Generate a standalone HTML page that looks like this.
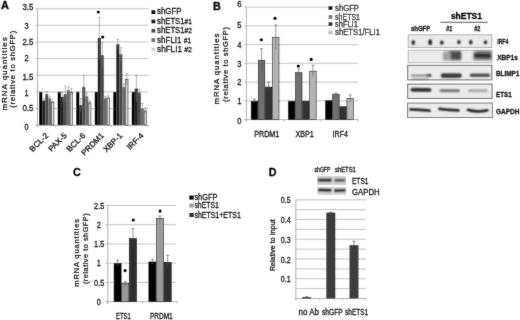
<!DOCTYPE html>
<html><head><meta charset="utf-8"><style>
html,body{margin:0;padding:0;background:#fff;}
body{width:520px;height:320px;overflow:hidden;}
svg{display:block;font-family:"Liberation Sans", sans-serif;}
</style></head><body>
<svg width="520" height="320" viewBox="0 0 520 320">
<defs><filter id="bl" filterUnits="userSpaceOnUse" x="0" y="0" width="520" height="320"><feConvolveMatrix order="3" kernelMatrix="1 2 1 2 4 2 1 2 1" divisor="16" edgeMode="none"/></filter><filter id="soft" filterUnits="userSpaceOnUse" x="0" y="0" width="520" height="320"><feConvolveMatrix order="3" kernelMatrix="1 2 1 2 28 2 1 2 1" divisor="40" edgeMode="none"/></filter><filter id="bl2" filterUnits="userSpaceOnUse" x="0" y="0" width="520" height="320"><feGaussianBlur stdDeviation="1.1"/></filter></defs>
<rect width="520" height="320" fill="#fff"/>
<g filter="url(#soft)">
<line x1="37.5" y1="108.55" x2="148.6" y2="108.55" stroke="#c4c4c4" stroke-width="1"/>
<line x1="37.5" y1="91.90" x2="148.6" y2="91.90" stroke="#c4c4c4" stroke-width="1"/>
<line x1="37.5" y1="75.25" x2="148.6" y2="75.25" stroke="#c4c4c4" stroke-width="1"/>
<line x1="37.5" y1="58.60" x2="148.6" y2="58.60" stroke="#c4c4c4" stroke-width="1"/>
<line x1="37.5" y1="41.95" x2="148.6" y2="41.95" stroke="#c4c4c4" stroke-width="1"/>
<line x1="37.5" y1="25.30" x2="148.6" y2="25.30" stroke="#c4c4c4" stroke-width="1"/>
<line x1="37.5" y1="8.65" x2="148.6" y2="8.65" stroke="#c4c4c4" stroke-width="1"/>
<line x1="37.5" y1="8.65" x2="37.5" y2="127.2" stroke="#b4b4b4" stroke-width="1"/>
<line x1="35.7" y1="125.2" x2="148.6" y2="125.2" stroke="#b4b4b4" stroke-width="1"/>
<line x1="35.7" y1="125.20" x2="37.5" y2="125.20" stroke="#b4b4b4" stroke-width="1"/>
<line x1="35.7" y1="108.55" x2="37.5" y2="108.55" stroke="#b4b4b4" stroke-width="1"/>
<line x1="35.7" y1="91.90" x2="37.5" y2="91.90" stroke="#b4b4b4" stroke-width="1"/>
<line x1="35.7" y1="75.25" x2="37.5" y2="75.25" stroke="#b4b4b4" stroke-width="1"/>
<line x1="35.7" y1="58.60" x2="37.5" y2="58.60" stroke="#b4b4b4" stroke-width="1"/>
<line x1="35.7" y1="41.95" x2="37.5" y2="41.95" stroke="#b4b4b4" stroke-width="1"/>
<line x1="35.7" y1="25.30" x2="37.5" y2="25.30" stroke="#b4b4b4" stroke-width="1"/>
<line x1="35.7" y1="8.65" x2="37.5" y2="8.65" stroke="#b4b4b4" stroke-width="1"/>
<line x1="37.50" y1="125.2" x2="37.50" y2="127.2" stroke="#b4b4b4" stroke-width="0.9"/>
<line x1="56.02" y1="125.2" x2="56.02" y2="127.2" stroke="#b4b4b4" stroke-width="0.9"/>
<line x1="74.53" y1="125.2" x2="74.53" y2="127.2" stroke="#b4b4b4" stroke-width="0.9"/>
<line x1="93.05" y1="125.2" x2="93.05" y2="127.2" stroke="#b4b4b4" stroke-width="0.9"/>
<line x1="111.57" y1="125.2" x2="111.57" y2="127.2" stroke="#b4b4b4" stroke-width="0.9"/>
<line x1="130.08" y1="125.2" x2="130.08" y2="127.2" stroke="#b4b4b4" stroke-width="0.9"/>
<line x1="148.60" y1="125.2" x2="148.60" y2="127.2" stroke="#b4b4b4" stroke-width="0.9"/>
<text x="24.40" y="129.90" font-size="9.20" fill="#111111" stroke="#111111" stroke-width="0.28" textLength="4.10" lengthAdjust="spacingAndGlyphs">0</text>
<text x="22.40" y="110.60" font-size="9.20" fill="#111111" stroke="#111111" stroke-width="0.28" textLength="10.90" lengthAdjust="spacingAndGlyphs">0.5</text>
<text x="24.40" y="96.30" font-size="9.20" fill="#111111" stroke="#111111" stroke-width="0.28" textLength="4.10" lengthAdjust="spacingAndGlyphs">1</text>
<text x="22.40" y="79.60" font-size="9.20" fill="#111111" stroke="#111111" stroke-width="0.28" textLength="10.90" lengthAdjust="spacingAndGlyphs">1.5</text>
<text x="24.40" y="61.10" font-size="9.20" fill="#111111" stroke="#111111" stroke-width="0.28" textLength="4.10" lengthAdjust="spacingAndGlyphs">2</text>
<text x="22.40" y="44.60" font-size="9.20" fill="#111111" stroke="#111111" stroke-width="0.28" textLength="10.90" lengthAdjust="spacingAndGlyphs">2.5</text>
<text x="24.40" y="28.80" font-size="9.20" fill="#111111" stroke="#111111" stroke-width="0.28" textLength="4.10" lengthAdjust="spacingAndGlyphs">3</text>
<text x="22.40" y="10.30" font-size="9.20" fill="#111111" stroke="#111111" stroke-width="0.28" textLength="10.90" lengthAdjust="spacingAndGlyphs">3.5</text>
<rect x="39.25" y="91.90" width="3.0" height="33.30" fill="#050505"/>
<rect x="42.25" y="100.56" width="3.0" height="24.64" fill="#242424"/>
<rect x="45.25" y="94.23" width="3.0" height="30.97" fill="#4a4a4a"/>
<rect x="48.25" y="98.56" width="3.0" height="26.64" fill="#6c6c6c"/>
<rect x="51.55" y="102.19" width="2.4" height="23.01" fill="#d6d6d6" stroke="#222" stroke-width="0.6"/>
<line x1="43.75" y1="98.89" x2="43.75" y2="102.22" stroke="#777" stroke-width="0.55"/>
<line x1="42.65" y1="98.89" x2="44.85" y2="98.89" stroke="#777" stroke-width="0.55"/>
<line x1="46.75" y1="91.57" x2="46.75" y2="96.90" stroke="#777" stroke-width="0.55"/>
<line x1="45.65" y1="91.57" x2="47.85" y2="91.57" stroke="#777" stroke-width="0.55"/>
<line x1="49.75" y1="96.90" x2="49.75" y2="100.23" stroke="#777" stroke-width="0.55"/>
<line x1="48.65" y1="96.90" x2="50.85" y2="96.90" stroke="#777" stroke-width="0.55"/>
<line x1="52.75" y1="100.89" x2="52.75" y2="102.89" stroke="#777" stroke-width="0.55"/>
<line x1="51.65" y1="100.89" x2="53.85" y2="100.89" stroke="#777" stroke-width="0.55"/>
<rect x="57.77" y="91.90" width="3.0" height="33.30" fill="#050505"/>
<rect x="60.77" y="96.90" width="3.0" height="28.30" fill="#242424"/>
<rect x="63.77" y="94.23" width="3.0" height="30.97" fill="#4a4a4a"/>
<rect x="66.77" y="90.24" width="3.0" height="34.96" fill="#6c6c6c"/>
<rect x="70.07" y="92.20" width="2.4" height="33.00" fill="#d6d6d6" stroke="#222" stroke-width="0.6"/>
<line x1="62.27" y1="91.90" x2="62.27" y2="101.89" stroke="#777" stroke-width="0.55"/>
<line x1="61.17" y1="91.90" x2="63.37" y2="91.90" stroke="#777" stroke-width="0.55"/>
<line x1="65.27" y1="85.91" x2="65.27" y2="102.56" stroke="#777" stroke-width="0.55"/>
<line x1="64.17" y1="85.91" x2="66.37" y2="85.91" stroke="#777" stroke-width="0.55"/>
<line x1="68.27" y1="86.91" x2="68.27" y2="93.56" stroke="#777" stroke-width="0.55"/>
<line x1="67.17" y1="86.91" x2="69.37" y2="86.91" stroke="#777" stroke-width="0.55"/>
<line x1="71.27" y1="88.57" x2="71.27" y2="95.23" stroke="#777" stroke-width="0.55"/>
<line x1="70.17" y1="88.57" x2="72.37" y2="88.57" stroke="#777" stroke-width="0.55"/>
<rect x="76.28" y="91.90" width="3.0" height="33.30" fill="#050505"/>
<rect x="79.28" y="105.22" width="3.0" height="19.98" fill="#242424"/>
<rect x="82.28" y="86.91" width="3.0" height="38.29" fill="#4a4a4a"/>
<rect x="85.28" y="96.23" width="3.0" height="28.97" fill="#6c6c6c"/>
<rect x="88.58" y="102.86" width="2.4" height="22.34" fill="#d6d6d6" stroke="#222" stroke-width="0.6"/>
<line x1="80.78" y1="98.56" x2="80.78" y2="111.88" stroke="#777" stroke-width="0.55"/>
<line x1="79.68" y1="98.56" x2="81.88" y2="98.56" stroke="#777" stroke-width="0.55"/>
<line x1="83.78" y1="75.25" x2="83.78" y2="98.56" stroke="#777" stroke-width="0.55"/>
<line x1="82.68" y1="75.25" x2="84.88" y2="75.25" stroke="#777" stroke-width="0.55"/>
<line x1="86.78" y1="92.90" x2="86.78" y2="99.56" stroke="#777" stroke-width="0.55"/>
<line x1="85.68" y1="92.90" x2="87.88" y2="92.90" stroke="#777" stroke-width="0.55"/>
<line x1="89.78" y1="100.89" x2="89.78" y2="104.22" stroke="#777" stroke-width="0.55"/>
<line x1="88.68" y1="100.89" x2="90.88" y2="100.89" stroke="#777" stroke-width="0.55"/>
<rect x="94.80" y="91.90" width="3.0" height="33.30" fill="#050505"/>
<rect x="97.80" y="37.95" width="3.0" height="87.25" fill="#242424"/>
<rect x="100.80" y="55.27" width="3.0" height="69.93" fill="#4a4a4a"/>
<rect x="103.80" y="98.23" width="3.0" height="26.97" fill="#6c6c6c"/>
<rect x="107.10" y="97.86" width="2.4" height="27.34" fill="#d6d6d6" stroke="#222" stroke-width="0.6"/>
<line x1="99.30" y1="17.31" x2="99.30" y2="58.60" stroke="#777" stroke-width="0.55"/>
<line x1="98.20" y1="17.31" x2="100.40" y2="17.31" stroke="#777" stroke-width="0.55"/>
<line x1="102.30" y1="42.95" x2="102.30" y2="67.59" stroke="#777" stroke-width="0.55"/>
<line x1="101.20" y1="42.95" x2="103.40" y2="42.95" stroke="#777" stroke-width="0.55"/>
<line x1="105.30" y1="96.56" x2="105.30" y2="99.89" stroke="#777" stroke-width="0.55"/>
<line x1="104.20" y1="96.56" x2="106.40" y2="96.56" stroke="#777" stroke-width="0.55"/>
<line x1="108.30" y1="95.90" x2="108.30" y2="99.23" stroke="#777" stroke-width="0.55"/>
<line x1="107.20" y1="95.90" x2="109.40" y2="95.90" stroke="#777" stroke-width="0.55"/>
<rect x="113.32" y="91.90" width="3.0" height="33.30" fill="#050505"/>
<rect x="116.32" y="44.28" width="3.0" height="80.92" fill="#242424"/>
<rect x="119.32" y="54.27" width="3.0" height="70.93" fill="#4a4a4a"/>
<rect x="122.32" y="87.24" width="3.0" height="37.96" fill="#6c6c6c"/>
<rect x="125.62" y="79.55" width="2.4" height="45.65" fill="#d6d6d6" stroke="#222" stroke-width="0.6"/>
<line x1="117.82" y1="39.29" x2="117.82" y2="49.28" stroke="#777" stroke-width="0.55"/>
<line x1="116.72" y1="39.29" x2="118.92" y2="39.29" stroke="#777" stroke-width="0.55"/>
<line x1="120.82" y1="47.61" x2="120.82" y2="60.93" stroke="#777" stroke-width="0.55"/>
<line x1="119.72" y1="47.61" x2="121.92" y2="47.61" stroke="#777" stroke-width="0.55"/>
<line x1="123.82" y1="83.91" x2="123.82" y2="90.57" stroke="#777" stroke-width="0.55"/>
<line x1="122.72" y1="83.91" x2="124.92" y2="83.91" stroke="#777" stroke-width="0.55"/>
<line x1="126.82" y1="73.59" x2="126.82" y2="84.91" stroke="#777" stroke-width="0.55"/>
<line x1="125.72" y1="73.59" x2="127.92" y2="73.59" stroke="#777" stroke-width="0.55"/>
<rect x="131.83" y="91.90" width="3.0" height="33.30" fill="#050505"/>
<rect x="134.83" y="88.57" width="3.0" height="36.63" fill="#242424"/>
<rect x="137.83" y="92.57" width="3.0" height="32.63" fill="#4a4a4a"/>
<rect x="140.83" y="108.55" width="3.0" height="16.65" fill="#6c6c6c"/>
<rect x="144.13" y="110.85" width="2.4" height="14.35" fill="#d6d6d6" stroke="#222" stroke-width="0.6"/>
<line x1="136.33" y1="75.25" x2="136.33" y2="101.89" stroke="#777" stroke-width="0.55"/>
<line x1="135.23" y1="75.25" x2="137.43" y2="75.25" stroke="#777" stroke-width="0.55"/>
<line x1="139.33" y1="89.24" x2="139.33" y2="95.90" stroke="#777" stroke-width="0.55"/>
<line x1="138.23" y1="89.24" x2="140.43" y2="89.24" stroke="#777" stroke-width="0.55"/>
<line x1="142.33" y1="103.56" x2="142.33" y2="113.55" stroke="#777" stroke-width="0.55"/>
<line x1="141.23" y1="103.56" x2="143.43" y2="103.56" stroke="#777" stroke-width="0.55"/>
<line x1="145.33" y1="107.88" x2="145.33" y2="113.21" stroke="#777" stroke-width="0.55"/>
<line x1="144.23" y1="107.88" x2="146.43" y2="107.88" stroke="#777" stroke-width="0.55"/>
<circle cx="98.3" cy="12.0" r="1.55" fill="#000"/>
<circle cx="102.7" cy="37.0" r="1.55" fill="#000"/>
<text x="48.86" y="136.10" text-anchor="end" font-size="8.0" fill="#111111" stroke="#111111" stroke-width="0.28" transform="rotate(-45 48.86 136.10)">BCL-2</text>
<text x="67.38" y="136.10" text-anchor="end" font-size="8.0" fill="#111111" stroke="#111111" stroke-width="0.28" transform="rotate(-45 67.38 136.10)">PAX-5</text>
<text x="85.89" y="136.10" text-anchor="end" font-size="8.0" fill="#111111" stroke="#111111" stroke-width="0.28" transform="rotate(-45 85.89 136.10)">BCL-6</text>
<text x="104.41" y="136.10" text-anchor="end" font-size="8.0" fill="#111111" stroke="#111111" stroke-width="0.28" transform="rotate(-45 104.41 136.10)">PRDM1</text>
<text x="122.92" y="136.10" text-anchor="end" font-size="8.0" fill="#111111" stroke="#111111" stroke-width="0.28" transform="rotate(-45 122.92 136.10)">XBP-1</text>
<text x="144.14" y="136.10" text-anchor="end" font-size="8.0" fill="#111111" stroke="#111111" stroke-width="0.28" transform="rotate(-45 144.14 136.10)">IRF-4</text>
<text x="0" y="0" font-size="8.00" fill="#111111" stroke="#111111" stroke-width="0.25" textLength="73.30" lengthAdjust="spacing" transform="translate(6.90 110.60) rotate(-90)">mRNA quantities</text>
<text x="0" y="0" font-size="7.70" fill="#111111" stroke="#111111" stroke-width="0.25" textLength="77.00" lengthAdjust="spacing" transform="translate(15.20 107.80) rotate(-90)">(relative to shGFP)</text>
<rect x="151.5" y="10.30" width="3.7" height="3.7" fill="#050505"/>
<text x="157.10" y="14.10" font-size="8.90" fill="#111111" stroke="#111111" stroke-width="0.28" textLength="24.30" lengthAdjust="spacingAndGlyphs">shGFP</text>
<rect x="151.5" y="19.60" width="3.7" height="3.7" fill="#151515"/>
<text x="157.10" y="23.60" font-size="8.90" fill="#111111" stroke="#111111" stroke-width="0.28" textLength="34.80" lengthAdjust="spacingAndGlyphs">shETS1<tspan font-size="7.6">#1</tspan></text>
<rect x="151.5" y="28.90" width="3.7" height="3.7" fill="#444"/>
<text x="157.10" y="33.10" font-size="8.90" fill="#111111" stroke="#111111" stroke-width="0.28" textLength="34.80" lengthAdjust="spacingAndGlyphs">shETS1<tspan font-size="7.6">#2</tspan></text>
<rect x="151.5" y="38.20" width="3.7" height="3.7" fill="#707070"/>
<text x="157.10" y="42.60" font-size="8.90" fill="#111111" stroke="#111111" stroke-width="0.28" textLength="34.20" lengthAdjust="spacingAndGlyphs">shFLI1 <tspan font-size="7.6">#1</tspan></text>
<rect x="151.5" y="47.50" width="3.7" height="3.7" fill="#cfcfcf"/>
<text x="157.10" y="52.10" font-size="8.90" fill="#111111" stroke="#111111" stroke-width="0.28" textLength="34.80" lengthAdjust="spacingAndGlyphs">shFLI1 <tspan font-size="7.6">#2</tspan></text>
<text x="0.90" y="9.00" font-size="10.40" font-weight="bold" fill="#000" stroke="#000" stroke-width="0.28" textLength="7.95" lengthAdjust="spacingAndGlyphs">A</text>
<line x1="246.4" y1="100.85" x2="358.0" y2="100.85" stroke="#c4c4c4" stroke-width="1"/>
<line x1="246.4" y1="82.10" x2="358.0" y2="82.10" stroke="#c4c4c4" stroke-width="1"/>
<line x1="246.4" y1="63.35" x2="358.0" y2="63.35" stroke="#c4c4c4" stroke-width="1"/>
<line x1="246.4" y1="44.60" x2="358.0" y2="44.60" stroke="#c4c4c4" stroke-width="1"/>
<line x1="246.4" y1="25.85" x2="328.8" y2="25.85" stroke="#c4c4c4" stroke-width="1"/>
<line x1="246.4" y1="7.10" x2="328.8" y2="7.10" stroke="#c4c4c4" stroke-width="1"/>
<line x1="246.4" y1="7.10" x2="246.4" y2="121.6" stroke="#b4b4b4" stroke-width="1"/>
<line x1="244.4" y1="119.6" x2="358.0" y2="119.6" stroke="#b4b4b4" stroke-width="1"/>
<line x1="244.4" y1="119.60" x2="246.4" y2="119.60" stroke="#b4b4b4" stroke-width="1"/>
<line x1="244.4" y1="100.85" x2="246.4" y2="100.85" stroke="#b4b4b4" stroke-width="1"/>
<line x1="244.4" y1="82.10" x2="246.4" y2="82.10" stroke="#b4b4b4" stroke-width="1"/>
<line x1="244.4" y1="63.35" x2="246.4" y2="63.35" stroke="#b4b4b4" stroke-width="1"/>
<line x1="244.4" y1="44.60" x2="246.4" y2="44.60" stroke="#b4b4b4" stroke-width="1"/>
<line x1="244.4" y1="25.85" x2="246.4" y2="25.85" stroke="#b4b4b4" stroke-width="1"/>
<line x1="244.4" y1="7.10" x2="246.4" y2="7.10" stroke="#b4b4b4" stroke-width="1"/>
<line x1="246.40" y1="119.6" x2="246.40" y2="121.6" stroke="#b4b4b4" stroke-width="0.9"/>
<line x1="283.60" y1="119.6" x2="283.60" y2="121.6" stroke="#b4b4b4" stroke-width="0.9"/>
<line x1="320.80" y1="119.6" x2="320.80" y2="121.6" stroke="#b4b4b4" stroke-width="0.9"/>
<line x1="358.00" y1="119.6" x2="358.00" y2="121.6" stroke="#b4b4b4" stroke-width="0.9"/>
<text x="237.20" y="123.60" font-size="9.00" fill="#111111" stroke="#111111" stroke-width="0.28" textLength="4.20" lengthAdjust="spacingAndGlyphs">0</text>
<text x="237.20" y="104.00" font-size="9.00" fill="#111111" stroke="#111111" stroke-width="0.28" textLength="4.20" lengthAdjust="spacingAndGlyphs">1</text>
<text x="237.20" y="85.40" font-size="9.00" fill="#111111" stroke="#111111" stroke-width="0.28" textLength="4.20" lengthAdjust="spacingAndGlyphs">2</text>
<text x="237.20" y="66.95" font-size="9.00" fill="#111111" stroke="#111111" stroke-width="0.28" textLength="4.20" lengthAdjust="spacingAndGlyphs">3</text>
<text x="237.20" y="48.05" font-size="9.00" fill="#111111" stroke="#111111" stroke-width="0.28" textLength="4.20" lengthAdjust="spacingAndGlyphs">4</text>
<text x="237.20" y="28.40" font-size="9.00" fill="#111111" stroke="#111111" stroke-width="0.28" textLength="4.20" lengthAdjust="spacingAndGlyphs">5</text>
<text x="237.20" y="7.10" font-size="9.00" fill="#111111" stroke="#111111" stroke-width="0.28" textLength="4.20" lengthAdjust="spacingAndGlyphs">6</text>
<rect x="251.20" y="101.15" width="6.50" height="18.45" fill="#000000" stroke="#1a1a1a" stroke-width="0.6"/>
<rect x="258.30" y="60.27" width="6.50" height="59.33" fill="#6f6f6f" stroke="#1a1a1a" stroke-width="0.6"/>
<rect x="265.40" y="87.09" width="6.50" height="32.51" fill="#303030" stroke="#1a1a1a" stroke-width="0.6"/>
<rect x="272.50" y="37.40" width="6.50" height="82.20" fill="#b4b4b4" stroke="#1a1a1a" stroke-width="0.6"/>
<line x1="254.45" y1="98.97" x2="254.45" y2="102.72" stroke="#555" stroke-width="0.6"/>
<line x1="252.95" y1="98.97" x2="255.95" y2="98.97" stroke="#555" stroke-width="0.6"/>
<line x1="261.55" y1="48.72" x2="261.55" y2="71.22" stroke="#555" stroke-width="0.6"/>
<line x1="260.05" y1="48.72" x2="263.05" y2="48.72" stroke="#555" stroke-width="0.6"/>
<line x1="268.65" y1="82.10" x2="268.65" y2="91.47" stroke="#555" stroke-width="0.6"/>
<line x1="267.15" y1="82.10" x2="270.15" y2="82.10" stroke="#555" stroke-width="0.6"/>
<line x1="275.75" y1="24.91" x2="275.75" y2="49.29" stroke="#555" stroke-width="0.6"/>
<line x1="274.25" y1="24.91" x2="277.25" y2="24.91" stroke="#555" stroke-width="0.6"/>
<rect x="288.40" y="101.15" width="6.50" height="18.45" fill="#000000" stroke="#1a1a1a" stroke-width="0.6"/>
<rect x="295.50" y="72.65" width="6.50" height="46.95" fill="#6f6f6f" stroke="#1a1a1a" stroke-width="0.6"/>
<rect x="302.60" y="101.15" width="6.50" height="18.45" fill="#303030" stroke="#1a1a1a" stroke-width="0.6"/>
<rect x="309.70" y="71.15" width="6.50" height="48.45" fill="#b4b4b4" stroke="#1a1a1a" stroke-width="0.6"/>
<line x1="298.75" y1="68.97" x2="298.75" y2="75.72" stroke="#555" stroke-width="0.6"/>
<line x1="297.25" y1="68.97" x2="300.25" y2="68.97" stroke="#555" stroke-width="0.6"/>
<line x1="312.95" y1="65.22" x2="312.95" y2="76.47" stroke="#555" stroke-width="0.6"/>
<line x1="311.45" y1="65.22" x2="314.45" y2="65.22" stroke="#555" stroke-width="0.6"/>
<rect x="325.60" y="100.77" width="6.50" height="18.82" fill="#000000" stroke="#1a1a1a" stroke-width="0.6"/>
<rect x="332.70" y="94.21" width="6.50" height="25.39" fill="#6f6f6f" stroke="#1a1a1a" stroke-width="0.6"/>
<rect x="339.80" y="106.77" width="6.50" height="12.82" fill="#303030" stroke="#1a1a1a" stroke-width="0.6"/>
<rect x="346.90" y="98.52" width="6.50" height="21.07" fill="#b4b4b4" stroke="#1a1a1a" stroke-width="0.6"/>
<line x1="335.95" y1="92.97" x2="335.95" y2="94.85" stroke="#555" stroke-width="0.6"/>
<line x1="334.45" y1="92.97" x2="337.45" y2="92.97" stroke="#555" stroke-width="0.6"/>
<line x1="350.15" y1="94.85" x2="350.15" y2="101.60" stroke="#555" stroke-width="0.6"/>
<line x1="348.65" y1="94.85" x2="351.65" y2="94.85" stroke="#555" stroke-width="0.6"/>
<circle cx="261.3" cy="39.8" r="1.55" fill="#000"/>
<circle cx="275.0" cy="18.2" r="1.55" fill="#000"/>
<circle cx="298.3" cy="66.0" r="1.55" fill="#000"/>
<circle cx="311.2" cy="59.4" r="1.55" fill="#000"/>
<text x="254.30" y="136.90" font-size="8.50" fill="#111111" stroke="#111111" stroke-width="0.28" textLength="25.00" lengthAdjust="spacingAndGlyphs">PRDM1</text>
<text x="295.60" y="136.90" font-size="8.50" fill="#111111" stroke="#111111" stroke-width="0.28" textLength="18.10" lengthAdjust="spacingAndGlyphs">XBP1</text>
<text x="332.60" y="136.90" font-size="8.50" fill="#111111" stroke="#111111" stroke-width="0.28" textLength="15.40" lengthAdjust="spacingAndGlyphs">IRF4</text>
<text x="0" y="0" font-size="7.80" fill="#111111" stroke="#111111" stroke-width="0.25" textLength="70.80" lengthAdjust="spacing" transform="translate(218.50 104.40) rotate(-90)">mRNA quantities</text>
<text x="0" y="0" font-size="7.50" fill="#111111" stroke="#111111" stroke-width="0.25" textLength="74.90" lengthAdjust="spacing" transform="translate(228.20 101.90) rotate(-90)">(relative to shGFP)</text>
<rect x="328.8" y="0" width="56" height="37" fill="#fff"/>
<rect x="328.6" y="6.20" width="3.8" height="3.8" fill="#000"/>
<text x="335.10" y="10.60" font-size="8.50" fill="#111111" stroke="#111111" stroke-width="0.28" textLength="23.90" lengthAdjust="spacingAndGlyphs">shGFP</text>
<rect x="328.6" y="15.10" width="3.8" height="3.8" fill="#7a7a7a"/>
<text x="335.10" y="19.50" font-size="8.50" fill="#111111" stroke="#111111" stroke-width="0.28" textLength="24.90" lengthAdjust="spacingAndGlyphs">shETS1</text>
<rect x="328.6" y="22.20" width="3.8" height="3.8" fill="#2a2a2a"/>
<text x="335.10" y="26.60" font-size="8.50" fill="#111111" stroke="#111111" stroke-width="0.28" textLength="22.70" lengthAdjust="spacingAndGlyphs">shFLI1</text>
<rect x="328.6" y="30.60" width="3.8" height="3.8" fill="#bcbcbc"/>
<text x="335.10" y="35.00" font-size="8.50" fill="#111111" stroke="#111111" stroke-width="0.28" textLength="44.90" lengthAdjust="spacingAndGlyphs">shETS1/FLI1</text>
<text x="212.90" y="10.00" font-size="10.40" font-weight="bold" fill="#000" stroke="#000" stroke-width="0.28" textLength="7.80" lengthAdjust="spacingAndGlyphs">B</text>
<line x1="107.8" y1="282.45" x2="175.9" y2="282.45" stroke="#c4c4c4" stroke-width="1"/>
<line x1="107.8" y1="263.20" x2="175.9" y2="263.20" stroke="#c4c4c4" stroke-width="1"/>
<line x1="107.8" y1="243.95" x2="175.9" y2="243.95" stroke="#c4c4c4" stroke-width="1"/>
<line x1="107.8" y1="224.70" x2="175.9" y2="224.70" stroke="#c4c4c4" stroke-width="1"/>
<line x1="107.8" y1="205.45" x2="175.9" y2="205.45" stroke="#c4c4c4" stroke-width="1"/>
<line x1="107.8" y1="205.45" x2="107.8" y2="303.7" stroke="#b4b4b4" stroke-width="1"/>
<line x1="105.3" y1="301.7" x2="177.3" y2="301.7" stroke="#b4b4b4" stroke-width="1"/>
<line x1="105.3" y1="301.70" x2="107.8" y2="301.70" stroke="#b4b4b4" stroke-width="1"/>
<line x1="105.3" y1="282.45" x2="107.8" y2="282.45" stroke="#b4b4b4" stroke-width="1"/>
<line x1="105.3" y1="263.20" x2="107.8" y2="263.20" stroke="#b4b4b4" stroke-width="1"/>
<line x1="105.3" y1="243.95" x2="107.8" y2="243.95" stroke="#b4b4b4" stroke-width="1"/>
<line x1="105.3" y1="224.70" x2="107.8" y2="224.70" stroke="#b4b4b4" stroke-width="1"/>
<line x1="105.3" y1="205.45" x2="107.8" y2="205.45" stroke="#b4b4b4" stroke-width="1"/>
<line x1="107.80" y1="301.7" x2="107.80" y2="303.7" stroke="#b4b4b4" stroke-width="0.9"/>
<line x1="142.55" y1="301.7" x2="142.55" y2="303.7" stroke="#b4b4b4" stroke-width="0.9"/>
<line x1="177.30" y1="301.7" x2="177.30" y2="303.7" stroke="#b4b4b4" stroke-width="0.9"/>
<text x="96.80" y="304.80" font-size="8.60" fill="#111111" stroke="#111111" stroke-width="0.28" textLength="4.10" lengthAdjust="spacingAndGlyphs">0</text>
<text x="94.10" y="285.55" font-size="8.60" fill="#111111" stroke="#111111" stroke-width="0.28" textLength="10.20" lengthAdjust="spacingAndGlyphs">0.5</text>
<text x="96.80" y="266.30" font-size="8.60" fill="#111111" stroke="#111111" stroke-width="0.28" textLength="4.10" lengthAdjust="spacingAndGlyphs">1</text>
<text x="94.10" y="247.05" font-size="8.60" fill="#111111" stroke="#111111" stroke-width="0.28" textLength="10.20" lengthAdjust="spacingAndGlyphs">1.5</text>
<text x="96.80" y="227.80" font-size="8.60" fill="#111111" stroke="#111111" stroke-width="0.28" textLength="4.10" lengthAdjust="spacingAndGlyphs">2</text>
<text x="94.10" y="208.55" font-size="8.60" fill="#111111" stroke="#111111" stroke-width="0.28" textLength="10.20" lengthAdjust="spacingAndGlyphs">2.5</text>
<rect x="114.10" y="263.50" width="7.05" height="38.20" fill="#000000" stroke="#111" stroke-width="0.6"/>
<rect x="121.75" y="283.52" width="7.05" height="18.18" fill="#9a9a9a" stroke="#111" stroke-width="0.6"/>
<rect x="129.40" y="238.47" width="7.05" height="63.23" fill="#2e2e2e" stroke="#111" stroke-width="0.6"/>
<line x1="117.62" y1="260.12" x2="117.62" y2="266.28" stroke="#555" stroke-width="0.6"/>
<line x1="116.12" y1="260.12" x2="119.12" y2="260.12" stroke="#555" stroke-width="0.6"/>
<line x1="125.28" y1="281.68" x2="125.28" y2="284.76" stroke="#555" stroke-width="0.6"/>
<line x1="123.78" y1="281.68" x2="126.78" y2="281.68" stroke="#555" stroke-width="0.6"/>
<line x1="123.78" y1="284.76" x2="126.78" y2="284.76" stroke="#555" stroke-width="0.6"/>
<line x1="132.92" y1="228.55" x2="132.92" y2="247.80" stroke="#555" stroke-width="0.6"/>
<line x1="131.42" y1="228.55" x2="134.42" y2="228.55" stroke="#555" stroke-width="0.6"/>
<rect x="148.85" y="261.96" width="7.05" height="39.74" fill="#000000" stroke="#111" stroke-width="0.6"/>
<rect x="156.50" y="218.45" width="7.05" height="83.25" fill="#9a9a9a" stroke="#111" stroke-width="0.6"/>
<rect x="164.15" y="262.34" width="7.05" height="39.36" fill="#2e2e2e" stroke="#111" stroke-width="0.6"/>
<line x1="152.38" y1="259.35" x2="152.38" y2="263.97" stroke="#555" stroke-width="0.6"/>
<line x1="150.88" y1="259.35" x2="153.88" y2="259.35" stroke="#555" stroke-width="0.6"/>
<line x1="160.03" y1="215.84" x2="160.03" y2="220.46" stroke="#555" stroke-width="0.6"/>
<line x1="158.53" y1="215.84" x2="161.53" y2="215.84" stroke="#555" stroke-width="0.6"/>
<line x1="167.68" y1="255.50" x2="167.68" y2="268.59" stroke="#555" stroke-width="0.6"/>
<line x1="166.18" y1="255.50" x2="169.18" y2="255.50" stroke="#555" stroke-width="0.6"/>
<circle cx="125.1" cy="270.6" r="1.55" fill="#000"/>
<circle cx="133.3" cy="220.0" r="1.55" fill="#000"/>
<circle cx="160.1" cy="211.1" r="1.55" fill="#000"/>
<text x="116.10" y="318.80" font-size="8.50" fill="#111111" stroke="#111111" stroke-width="0.28" textLength="14.70" lengthAdjust="spacingAndGlyphs">ETS1</text>
<text x="149.90" y="318.80" font-size="8.50" fill="#111111" stroke="#111111" stroke-width="0.28" textLength="22.80" lengthAdjust="spacingAndGlyphs">PRDM1</text>
<text x="0" y="0" font-size="7.60" fill="#111111" stroke="#111111" stroke-width="0.25" textLength="67.80" lengthAdjust="spacing" transform="translate(79.30 286.70) rotate(-90)">mRNA quantities</text>
<text x="0" y="0" font-size="7.30" fill="#111111" stroke="#111111" stroke-width="0.25" textLength="70.80" lengthAdjust="spacing" transform="translate(88.00 284.10) rotate(-90)">(relative to shGFP)</text>
<rect x="189.4" y="195.60" width="4.3" height="4.0" fill="#000"/>
<text x="194.40" y="200.30" font-size="8.50" fill="#111111" stroke="#111111" stroke-width="0.28" textLength="23.10" lengthAdjust="spacingAndGlyphs">shGFP</text>
<rect x="189.4" y="203.50" width="4.3" height="4.0" fill="#999"/>
<text x="194.40" y="208.20" font-size="8.50" fill="#111111" stroke="#111111" stroke-width="0.28" textLength="24.50" lengthAdjust="spacingAndGlyphs">shETS1</text>
<rect x="189.4" y="213.00" width="4.3" height="4.0" fill="#2e2e2e"/>
<text x="194.40" y="217.70" font-size="8.50" fill="#111111" stroke="#111111" stroke-width="0.28" textLength="46.40" lengthAdjust="spacingAndGlyphs">shETS1+ETS1</text>
<text x="72.90" y="176.30" font-size="10.40" font-weight="bold" fill="#000" stroke="#000" stroke-width="0.28" textLength="7.80" lengthAdjust="spacingAndGlyphs">C</text>
<line x1="295.8" y1="288.63" x2="366.0" y2="288.63" stroke="#c4c4c4" stroke-width="1"/>
<line x1="295.8" y1="278.76" x2="366.0" y2="278.76" stroke="#c4c4c4" stroke-width="1"/>
<line x1="295.8" y1="268.89" x2="366.0" y2="268.89" stroke="#c4c4c4" stroke-width="1"/>
<line x1="295.8" y1="259.02" x2="366.0" y2="259.02" stroke="#c4c4c4" stroke-width="1"/>
<line x1="295.8" y1="249.15" x2="366.0" y2="249.15" stroke="#c4c4c4" stroke-width="1"/>
<line x1="295.8" y1="239.28" x2="366.0" y2="239.28" stroke="#c4c4c4" stroke-width="1"/>
<line x1="295.8" y1="229.41" x2="366.0" y2="229.41" stroke="#c4c4c4" stroke-width="1"/>
<line x1="295.8" y1="219.54" x2="366.0" y2="219.54" stroke="#c4c4c4" stroke-width="1"/>
<line x1="295.8" y1="209.67" x2="366.0" y2="209.67" stroke="#c4c4c4" stroke-width="1"/>
<line x1="295.8" y1="199.80" x2="366.0" y2="199.80" stroke="#c4c4c4" stroke-width="1"/>
<line x1="295.8" y1="199.80" x2="295.8" y2="300.5" stroke="#b4b4b4" stroke-width="1"/>
<line x1="295.8" y1="298.5" x2="366.0" y2="298.5" stroke="#b4b4b4" stroke-width="1"/>
<line x1="295.80" y1="298.5" x2="295.80" y2="300.5" stroke="#b4b4b4" stroke-width="0.9"/>
<line x1="319.20" y1="298.5" x2="319.20" y2="300.5" stroke="#b4b4b4" stroke-width="0.9"/>
<line x1="342.60" y1="298.5" x2="342.60" y2="300.5" stroke="#b4b4b4" stroke-width="0.9"/>
<line x1="366.00" y1="298.5" x2="366.00" y2="300.5" stroke="#b4b4b4" stroke-width="0.9"/>
<text x="280.80" y="282.36" font-size="8.20" fill="#111111" stroke="#111111" stroke-width="0.28" textLength="9.80" lengthAdjust="spacingAndGlyphs">0.1</text>
<text x="280.80" y="262.62" font-size="8.20" fill="#111111" stroke="#111111" stroke-width="0.28" textLength="9.80" lengthAdjust="spacingAndGlyphs">0.2</text>
<text x="280.80" y="242.88" font-size="8.20" fill="#111111" stroke="#111111" stroke-width="0.28" textLength="9.80" lengthAdjust="spacingAndGlyphs">0.3</text>
<text x="280.80" y="223.14" font-size="8.20" fill="#111111" stroke="#111111" stroke-width="0.28" textLength="9.80" lengthAdjust="spacingAndGlyphs">0.4</text>
<text x="280.80" y="203.40" font-size="8.20" fill="#111111" stroke="#111111" stroke-width="0.28" textLength="9.80" lengthAdjust="spacingAndGlyphs">0.5</text>
<rect x="302.2" y="297.12" width="9.0" height="1.38" fill="#3c3c3c"/>
<line x1="306.70" y1="296.72" x2="306.70" y2="297.51" stroke="#333" stroke-width="0.6"/>
<line x1="305.20" y1="296.72" x2="308.20" y2="296.72" stroke="#333" stroke-width="0.6"/>
<rect x="326.3" y="212.63" width="9.0" height="85.87" fill="#3c3c3c"/>
<line x1="330.80" y1="212.24" x2="330.80" y2="213.03" stroke="#333" stroke-width="0.6"/>
<line x1="329.30" y1="212.24" x2="332.30" y2="212.24" stroke="#333" stroke-width="0.6"/>
<rect x="349.5" y="245.20" width="9.0" height="53.30" fill="#3c3c3c"/>
<line x1="354.00" y1="241.25" x2="354.00" y2="249.15" stroke="#333" stroke-width="0.6"/>
<line x1="352.50" y1="241.25" x2="355.50" y2="241.25" stroke="#333" stroke-width="0.6"/>
<text x="298.50" y="315.30" font-size="8.50" fill="#111111" stroke="#111111" stroke-width="0.28" textLength="20.40" lengthAdjust="spacingAndGlyphs">no Ab</text>
<text x="322.00" y="315.30" font-size="8.50" fill="#111111" stroke="#111111" stroke-width="0.28" textLength="20.80" lengthAdjust="spacingAndGlyphs">shGFP</text>
<text x="345.10" y="315.30" font-size="8.50" fill="#111111" stroke="#111111" stroke-width="0.28" textLength="23.10" lengthAdjust="spacingAndGlyphs">shETS1</text>
<text x="0" y="0" font-size="7.00" fill="#111111" stroke="#111111" stroke-width="0.28" textLength="51.70" lengthAdjust="spacing" transform="translate(274.70 271.10) rotate(-90)">Relative to Input</text>
<rect x="317.2" y="176.2" width="28.8" height="8.6" fill="#c8c8c8"/>
<rect x="317.2" y="187.0" width="28.8" height="7.8" fill="#d0d0d0"/>
<rect x="332.6" y="176.2" width="1.2" height="18.6" fill="#e4e4e4"/>
<path d="M319.3 180.1 L330.3 180.1" stroke="#2c2c2c" stroke-width="2.8" stroke-linecap="round" filter="url(#bl)"/>
<path d="M335.6 180.2 L343.8 180.2" stroke="#555" stroke-width="2.4" stroke-linecap="round" filter="url(#bl)"/>
<path d="M319.3 190.0 L330.3 190.2" stroke="#1e1e1e" stroke-width="2.4" stroke-linecap="round" filter="url(#bl)"/>
<path d="M335.3 190.6 L344.6 190.4" stroke="#1e1e1e" stroke-width="2.4" stroke-linecap="round" filter="url(#bl)"/>
<text x="314.50" y="172.20" font-size="6.40" fill="#111111" stroke="#111111" stroke-width="0.28" textLength="15.90" lengthAdjust="spacingAndGlyphs">shGFP</text>
<text x="335.00" y="172.20" font-size="6.40" fill="#111111" stroke="#111111" stroke-width="0.28" textLength="20.80" lengthAdjust="spacingAndGlyphs">shETS1</text>
<text x="352.00" y="183.80" font-size="9.00" fill="#111111" stroke="#111111" stroke-width="0.28" textLength="16.40" lengthAdjust="spacingAndGlyphs">ETS1</text>
<text x="352.00" y="194.50" font-size="9.00" fill="#111111" stroke="#111111" stroke-width="0.28" textLength="27.60" lengthAdjust="spacingAndGlyphs">GAPDH</text>
<text x="268.70" y="176.30" font-size="10.40" font-weight="bold" fill="#000" stroke="#000" stroke-width="0.28" textLength="7.70" lengthAdjust="spacingAndGlyphs">D</text>
<text x="450.90" y="18.50" font-size="8.60" font-weight="bold" fill="#000" stroke="#000" stroke-width="0.28" textLength="31.10" lengthAdjust="spacingAndGlyphs">shETS1</text>
<line x1="440.5" y1="22.3" x2="487.7" y2="22.3" stroke="#555" stroke-width="1.1"/>
<text x="411.00" y="30.60" font-size="6.60" font-weight="bold" fill="#111" stroke="#111" stroke-width="0.28" textLength="19.10" lengthAdjust="spacingAndGlyphs">shGFP</text>
<text x="446.20" y="30.60" font-size="6.60" font-weight="bold" fill="#111" stroke="#111" stroke-width="0.28" textLength="5.90" lengthAdjust="spacingAndGlyphs">#1</text>
<text x="474.20" y="30.60" font-size="6.60" font-weight="bold" fill="#111" stroke="#111" stroke-width="0.28" textLength="6.10" lengthAdjust="spacingAndGlyphs">#2</text>
<rect x="408.2" y="34.8" width="83.6" height="12.6" fill="#ebebeb" stroke="#a8a8a8" stroke-width="0.9"/>
<rect x="408.2" y="50.2" width="83.6" height="12.6" fill="#ebebeb" stroke="#b4b4b4" stroke-width="0.9"/>
<rect x="407.7" y="65.3" width="84.2" height="14.6" fill="#ebebeb" stroke="#5a5a5a" stroke-width="0.9"/>
<rect x="407.7" y="84.1" width="84.4" height="14.3" fill="#ebebeb" stroke="#5a5a5a" stroke-width="0.9"/>
<rect x="407.6" y="103.0" width="84.8" height="14.5" fill="#ebebeb" stroke="#6a6a6a" stroke-width="0.9"/>
<ellipse cx="413.3" cy="42.6" rx="1.8" ry="2.5" fill="#262626" filter="url(#bl)"/>
<ellipse cx="430.2" cy="42.2" rx="1.9" ry="2.9" fill="#262626" filter="url(#bl)"/>
<ellipse cx="441.8" cy="42.6" rx="1.9" ry="2.2" fill="#262626" filter="url(#bl)"/>
<ellipse cx="458.9" cy="42.2" rx="1.7" ry="2.1" fill="#262626" filter="url(#bl)"/>
<ellipse cx="470.8" cy="42.3" rx="1.8" ry="2.3" fill="#262626" filter="url(#bl)"/>
<ellipse cx="485.5" cy="42.3" rx="1.7" ry="2.1" fill="#262626" filter="url(#bl)"/>
<rect x="443" y="51.5" width="18" height="9" fill="#a0a0a0" filter="url(#bl2)"/>
<rect x="451" y="51.5" width="10" height="8" fill="#4a4a4a" filter="url(#bl2)"/>
<path d="M448 52 L460 52" stroke="#555" stroke-width="1.0" filter="url(#bl)"/>
<rect x="473.5" y="51.5" width="18" height="8.5" fill="#686868" filter="url(#bl2)"/>
<path d="M476 55.6 L489.5 55.8" stroke="#2c2c2c" stroke-width="3" stroke-linecap="round" filter="url(#bl)"/>
<path d="M476 52 L490 52" stroke="#555" stroke-width="1.0" filter="url(#bl)"/>
<path d="M412 75.6 L430 75.4" stroke="#8a8a8a" stroke-width="2.0" stroke-linecap="round" filter="url(#bl)"/>
<path d="M427.5 75.4 L430.5 75.4" stroke="#555" stroke-width="2.4" stroke-linecap="round" filter="url(#bl)"/>
<path d="M412 79.0 L429 79.0" stroke="#6a6a6a" stroke-width="0.9" filter="url(#bl)"/>
<path d="M443 75.6 L459.5 75.6" stroke="#3e3e3e" stroke-width="4.6" stroke-linecap="round" filter="url(#bl)"/>
<path d="M471.5 75.2 L488.5 75.2" stroke="#505050" stroke-width="3.4" stroke-linecap="round" filter="url(#bl)"/>
<path d="M412.5 89.8 L429.5 90.0" stroke="#323232" stroke-width="4.0" stroke-linecap="round" filter="url(#bl)"/>
<path d="M441 90.7 L458.5 90.7" stroke="#767676" stroke-width="3.0" stroke-linecap="round" filter="url(#bl)"/>
<path d="M469.5 90.7 L486.5 90.7" stroke="#ababab" stroke-width="3.0" stroke-linecap="round" filter="url(#bl)"/>
<path d="M410.5 109.4 Q420 109.6 429.5 110.6" stroke="#1e1e1e" stroke-width="2.8" stroke-linecap="round" fill="none" filter="url(#bl)"/>
<path d="M439.5 108.9 Q448 110.0 458.4 110.4" stroke="#1e1e1e" stroke-width="2.8" stroke-linecap="round" fill="none" filter="url(#bl)"/>
<path d="M468 109.9 Q477 112.6 487.3 110.3" stroke="#1e1e1e" stroke-width="2.8" stroke-linecap="round" fill="none" filter="url(#bl)"/>
<text x="497.20" y="44.00" font-size="7.30" font-weight="bold" fill="#111" stroke="#111" stroke-width="0.28" textLength="11.20" lengthAdjust="spacingAndGlyphs">IRF4</text>
<text x="497.20" y="60.00" font-size="7.30" font-weight="bold" fill="#111" stroke="#111" stroke-width="0.28" textLength="20.60" lengthAdjust="spacingAndGlyphs">XBP1s</text>
<text x="496.00" y="76.10" font-size="7.30" font-weight="bold" fill="#111" stroke="#111" stroke-width="0.28" textLength="23.40" lengthAdjust="spacingAndGlyphs">BLIMP1</text>
<text x="496.00" y="96.90" font-size="7.30" font-weight="bold" fill="#111" stroke="#111" stroke-width="0.28" textLength="15.70" lengthAdjust="spacingAndGlyphs">ETS1</text>
<text x="496.00" y="114.20" font-size="7.30" font-weight="bold" fill="#111" stroke="#111" stroke-width="0.28" textLength="23.50" lengthAdjust="spacingAndGlyphs">GAPDH</text>
</g>
</svg>
</body></html>
